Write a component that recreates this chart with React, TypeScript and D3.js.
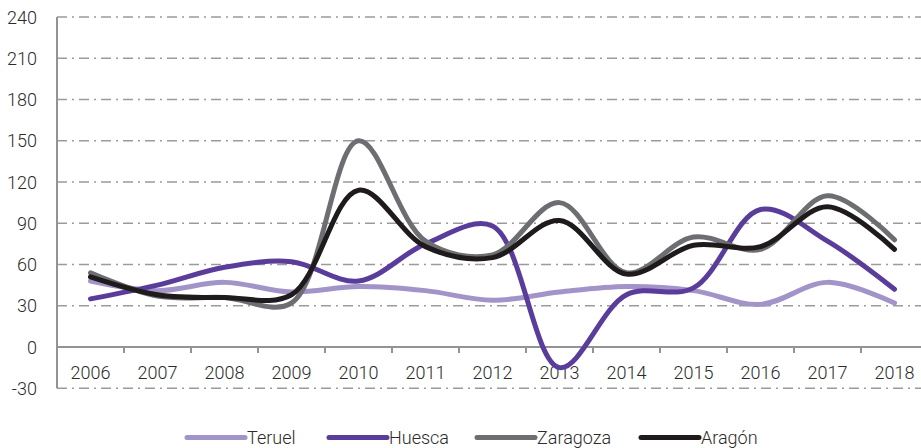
import React from "react";
import * as d3 from "d3";

const years = ["2006","2007","2008","2009","2010","2011","2012","2013","2014","2015","2016","2017","2018"];
const teruel = [48, 41, 47, 40, 44, 41, 34, 40, 44, 41, 31, 47, 32];
const huesca = [35, 45, 58, 62, 48, 75, 88, -15, 38, 43, 100, 77, 42];
const zaragoza = [54, 37, 36, 32, 150, 77, 67, 105, 54, 80, 71, 110, 78];
const aragon = [51, 38, 36, 38, 114, 73, 65, 92, 53, 74, 73, 102, 71];
const yTicks = [-30, 0, 30, 60, 90, 120, 150, 180, 210, 240];

const series = [
  { name: "Teruel", values: teruel, color: "#a293c9" },
  { name: "Huesca", values: huesca, color: "#5a3d9b" },
  { name: "Zaragoza", values: zaragoza, color: "#6d6e71" },
  { name: "Aragón", values: aragon, color: "#1f1b1c" },
];

export default function App() {
  const W = 921, H = 448;
  const left = 57, right = 928;
  const x = d3.scaleBand<string>().domain(years).range([left, right]);
  const y = d3.scaleLinear().domain([-30, 240]).range([388.25, 17]);
  const line = (vals: number[]) =>
    d3.line<number>()
      .x((_, i) => (x(years[i]) as number) + x.bandwidth() / 2)
      .y((v) => y(v))
      .curve(d3.curveCatmullRom.alpha(0.5))(vals) as string;
  const font = "Roboto, 'DejaVu Sans', sans-serif";
  const legendX = [187, 329, 477, 641];
  const fs = 18;
  return (
    <svg width={W} height={H} style={{ position: "absolute", left: 0, top: 0 }} fontFamily={font}>
      {yTicks.filter((t) => t !== 0).map((t) => (
        <line key={t} x1={left} x2={W} y1={y(t)} y2={y(t)} stroke="#9b9b9b" strokeWidth={1.5} strokeDasharray="10,5,2,5" />
      ))}
      <line x1={left} x2={left} y1={y(240)} y2={y(-30)} stroke="#939393" strokeWidth={2} />
      <line x1={left} x2={W} y1={y(0)} y2={y(0)} stroke="#939393" strokeWidth={2} />
      {years.slice(1).map((yr) => (
        <line key={yr} x1={x(yr)} x2={x(yr)} y1={y(0)} y2={y(0) + 6} stroke="#939393" strokeWidth={2} />
      ))}
      {yTicks.map((t) => (
        <text key={t} x={37} y={y(t) + 6.5} textAnchor="end" fontSize={fs} fill="#2b2b2b" fontWeight={300}>{t}</text>
      ))}
      {years.map((yr) => (
        <text key={yr} x={(x(yr) as number) + x.bandwidth() / 2} y={379} textAnchor="middle" fontSize={fs} fill="#2b2b2b" fontWeight={300}>{yr}</text>
      ))}
      {series.map((s) => (
        <path key={s.name} d={line(s.values)} fill="none" stroke={s.color} strokeWidth={5} strokeLinecap="round" strokeLinejoin="round" />
      ))}
      {series.map((s, i) => (
        <g key={s.name}>
          <line x1={legendX[i]} x2={legendX[i] + 58} y1={437.5} y2={437.5} stroke={s.color} strokeWidth={5} strokeLinecap="round" />
          <text x={legendX[i] + 60} y={444} fontSize={fs} fill="#2b2b2b" fontWeight={300}>{s.name}</text>
        </g>
      ))}
    </svg>
  );
}
